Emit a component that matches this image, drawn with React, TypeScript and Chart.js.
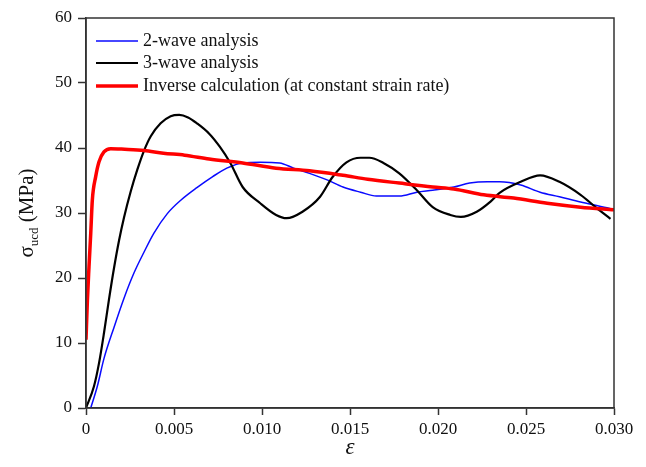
import React, { useEffect, useRef } from "react";
import { Chart, registerables } from "chart.js";

Chart.register(...registerables);

// ---- data ----
const twoWaveStrain = [0.00027, 0.00064, 0.00102, 0.00159, 0.00216, 0.00273, 0.0033, 0.00386, 0.00462, 0.0054, 0.0063, 0.0072, 0.008, 0.0089, 0.0099, 0.011, 0.0118, 0.0127, 0.0137, 0.0146, 0.0156, 0.0165, 0.0178, 0.0188, 0.0197, 0.0209, 0.0218, 0.0228, 0.0235, 0.0247, 0.0258, 0.0269, 0.0281, 0.0296, 0.03];
const twoWaveStress = [0, 3.3, 7.6, 12.4, 16.9, 20.8, 24.0, 26.9, 29.9, 32, 33.9, 35.6, 36.9, 37.7, 37.8, 37.7, 36.9, 36.1, 35.1, 34.0, 33.2, 32.6, 32.6, 33.2, 33.5, 34.0, 34.6, 34.8, 34.8, 34.3, 33.2, 32.5, 31.7, 30.8, 30.5];

const threeWaveStrain = [0, 0.00045, 0.00074, 0.00102, 0.0013, 0.00159, 0.00188, 0.00216, 0.00254, 0.00292, 0.0033, 0.00368, 0.00424, 0.00481, 0.0053, 0.0058, 0.0063, 0.007, 0.0076, 0.0082, 0.0089, 0.0099, 0.0108, 0.0114, 0.0123, 0.0133, 0.014, 0.0148, 0.0156, 0.0161, 0.0169, 0.0178, 0.0188, 0.0197, 0.0207, 0.0213, 0.0222, 0.023, 0.0235, 0.0247, 0.0258, 0.0269, 0.0281, 0.029, 0.0298];
const threeWaveStress = [0, 3.3, 6.9, 11.5, 16.6, 21.5, 25.8, 29.3, 33.3, 36.7, 39.6, 41.8, 43.8, 44.9, 45.1, 44.7, 43.8, 42.2, 40.2, 37.7, 34, 31.5, 29.7, 29.2, 30.2, 32.5, 35.5, 37.8, 38.5, 38.5, 37.7, 36.1, 33.5, 30.9, 29.7, 29.4, 30.2, 31.8, 33.1, 34.8, 35.8, 34.8, 32.8, 30.8, 29.1];

const inverseStrain = [0, 0.00008, 0.00017, 0.00027, 0.00036, 0.00055, 0.00074, 0.00102, 0.0014, 0.0022, 0.0033, 0.0044, 0.0056, 0.007, 0.0089, 0.0108, 0.0127, 0.0146, 0.016, 0.0178, 0.0197, 0.0209, 0.0226, 0.0243, 0.0262, 0.0281, 0.03];
const inverseStress = [10.5, 16.6, 21.7, 26.9, 32, 35.6, 37.9, 39.4, 39.9, 39.8, 39.6, 39.2, 38.9, 38.3, 37.7, 36.9, 36.5, 35.8, 35.2, 34.6, 34.0, 33.7, 32.8, 32.3, 31.5, 30.9, 30.5];

const seriesLabels = ["2-wave analysis", "3-wave analysis", "Inverse calculation (at constant strain rate)"];
const seriesColors = ["#0a0aff", "#000000", "#ff0000"];
const seriesWidths = [1.5, 2.2, 3.5];

const xTicks = [0, 0.005, 0.01, 0.015, 0.02, 0.025, 0.03];
const yTicks = [0, 10, 20, 30, 40, 50, 60];

const SERIF = "'Liberation Serif', 'Times New Roman', serif";

const toPoints = (xs: number[], ys: number[]) => xs.map((x, i) => ({ x, y: ys[i] }));

const decorPlugin = {
  id: "decor",
  afterDraw(chart: any) {
    const { ctx, chartArea } = chart;
    const { left, top, right, bottom } = chartArea;
    ctx.save();
    // frame
    ctx.strokeStyle = "#333";
    ctx.lineWidth = 1.5;
    ctx.strokeRect(left, top, right - left, bottom - top);

    // legend
    const rows = [41, 63, 86];
    ctx.textBaseline = "middle";
    ctx.textAlign = "left";
    ctx.font = `18px ${SERIF}`;
    ctx.fillStyle = "#111";
    rows.forEach((y, i) => {
      ctx.strokeStyle = seriesColors[i];
      ctx.lineWidth = seriesWidths[i];
      ctx.beginPath();
      ctx.moveTo(96, y);
      ctx.lineTo(138, y);
      ctx.stroke();
      ctx.fillText(seriesLabels[i], 143, y);
    });

    // y title
    ctx.translate(33, 213);
    ctx.rotate(-Math.PI / 2);
    ctx.textBaseline = "alphabetic";
    const bigFont = `21px ${SERIF}`;
    const smallFont = `13px ${SERIF}`;
    ctx.font = bigFont;
    const w1 = ctx.measureText("σ").width;
    const w3 = ctx.measureText(" (MPa)").width;
    ctx.font = smallFont;
    const w2 = ctx.measureText("ucd").width;
    let x = -(w1 + w2 + w3) / 2;
    ctx.font = bigFont;
    ctx.fillText("σ", x, 0);
    x += w1;
    ctx.font = smallFont;
    ctx.fillText("ucd", x, 5);
    x += w2;
    ctx.font = bigFont;
    ctx.fillText(" (MPa)", x, 0);
    ctx.restore();

    // x title
    ctx.save();
    ctx.font = `italic 23px ${SERIF}`;
    ctx.fillStyle = "#111";
    ctx.textAlign = "center";
    ctx.textBaseline = "alphabetic";
    ctx.fillText("ε", (left + right) / 2, 454);
    ctx.restore();
  },
};

export default function App() {
  const ref = useRef<HTMLCanvasElement | null>(null);
  useEffect(() => {
    if (!ref.current) return;
    const xs = [twoWaveStrain, threeWaveStrain, inverseStrain];
    const ys = [twoWaveStress, threeWaveStress, inverseStress];
    const chart = new Chart(ref.current, {
      type: "line",
      data: {
        datasets: seriesLabels.map((label, i) => ({
          label,
          data: toPoints(xs[i], ys[i]),
          borderColor: seriesColors[i],
          borderWidth: seriesWidths[i],
          pointRadius: 0,
          fill: false,
          cubicInterpolationMode: "monotone" as const,
          order: 2 - i,
        })),
      },
      options: {
        animation: false,
        responsive: true,
        maintainAspectRatio: false,
        layout: { padding: { top: 18, right: 32, left: 0, bottom: 0 } },
        plugins: { legend: { display: false }, tooltip: { enabled: false } },
        scales: {
          x: {
            type: "linear",
            min: 0,
            max: 0.03,
            afterFit: (s: any) => { s.height = 59; },
            afterBuildTicks: (s: any) => { s.ticks = xTicks.map((v) => ({ value: v })); },
            ticks: {
              color: "#111",
              font: { family: SERIF, size: 17 },
              padding: 4,
              maxRotation: 0,
              callback: (v: any) => (Number(v) === 0 ? "0" : Number(v).toFixed(3)),
            },
            grid: { drawOnChartArea: false, drawTicks: true, tickLength: 7, tickColor: "#333", tickWidth: 1.5 },
            border: { display: true, color: "#333", width: 1.5 },
          },
          y: {
            type: "linear",
            min: 0,
            max: 60,
            afterFit: (s: any) => { s.width = 86; },
            afterBuildTicks: (s: any) => { s.ticks = yTicks.map((v) => ({ value: v })); },
            ticks: {
              color: "#111",
              font: { family: SERIF, size: 17 },
              padding: 6,
            },
            grid: { drawOnChartArea: false, drawTicks: true, tickLength: 8, tickColor: "#333", tickWidth: 1.5 },
            border: { display: true, color: "#333", width: 1.5 },
          },
        },
      },
      plugins: [decorPlugin],
    });
    return () => chart.destroy();
  }, []);
  return (
    <div style={{ position: "absolute", left: 0, top: 0, width: 646, height: 467, background: "#fff" }}>
      <canvas ref={ref} />
    </div>
  );
}
